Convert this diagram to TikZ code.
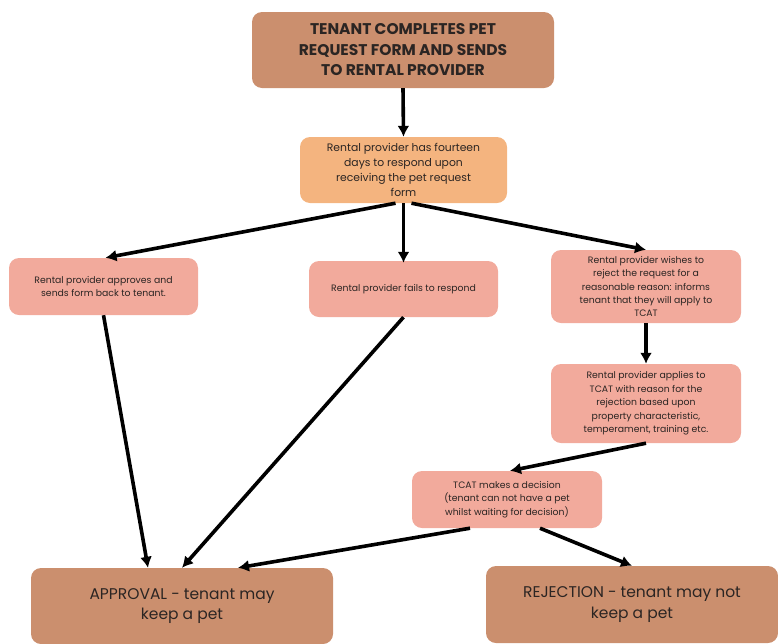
\documentclass[tikz,border=0pt]{standalone}
\usepackage{fontspec}
\setmainfont{Poppins}
\usepackage{xcolor}
\usetikzlibrary{positioning,arrows.meta}

\definecolor{brownbox}{HTML}{CB8F6E}
\definecolor{orangebox}{HTML}{F4B47F}
\definecolor{pinkbox}{HTML}{F2AA9C}
\definecolor{inktext}{HTML}{2B2523}

\begin{document}
\begin{tikzpicture}[
  x=1pt, y=-1pt,
  bigbox/.style={rectangle, rounded corners=10pt, fill=brownbox, align=center, text=inktext, font=\fontsize{15.5}{20.5}\selectfont},
  midbox/.style={rectangle, rounded corners=10pt, fill=orangebox, align=center, text=inktext, font=\fontsize{10.8}{15}\selectfont},
  smallbox/.style={rectangle, rounded corners=10pt, fill=pinkbox, align=center, text=inktext, font=\fontsize{9.3}{13.4}\selectfont},
  wire/.style={-{Latex[length=11pt,width=12pt]}, line width=3.6pt, black}
]
\useasboundingbox (0,0) rectangle (778,643);

% Start
\node[bigbox, minimum width=302pt, minimum height=76pt] (start) at (403,50)
  {\bfseries TENANT COMPLETES PET\\\bfseries REQUEST FORM AND SENDS\\\bfseries TO RENTAL PROVIDER};

% Fourteen days
\node[midbox, minimum width=207pt, minimum height=66pt] (days) at (403.5,170)
  {Rental provider has fourteen\\days to respond upon\\receiving the pet request\\form};

% Three outcomes
\node[smallbox, minimum width=189pt, minimum height=57pt] (approves) at (103.5,286.5)
  {Rental provider approves and\\sends form back to tenant.};
\node[smallbox, minimum width=189pt, minimum height=56pt] (fails) at (403.5,289)
  {Rental provider fails to respond};
\node[smallbox, minimum width=190pt, minimum height=73pt] (wishes) at (646,286.5)
  {Rental provider wishes to\\reject the request for a\\reasonable reason: informs\\tenant that they will apply to\\TCAT};

% Tribunal
\node[smallbox, minimum width=190pt, minimum height=79pt] (applies) at (646,403.5)
  {Rental provider applies to\\TCAT with reason for the\\rejection based upon\\property characteristic,\\temperament, training etc.};
\node[smallbox, minimum width=190pt, minimum height=57pt] (decision) at (507,499.5)
  {TCAT makes a decision\\(tenant can not have a pet\\whilst waiting for decision)};

% Results
\node[bigbox, minimum width=302pt, minimum height=76pt] (approval) at (182,606)
  {APPROVAL - tenant may\\keep a pet};
\node[bigbox, minimum width=292pt, minimum height=77pt] (rejection) at (632,604.5)
  {REJECTION - tenant may not\\keep a pet};

% Wires
\draw[wire] (start.south) -- (days.north);
\draw[wire] ([xshift=-8pt]days.south) -- ([xshift=2pt]approves.north);
\draw[wire] (days.south) -- ([yshift=-2pt]fails.north);
\draw[wire] ([xshift=8pt]days.south) -- (wishes.north);
\draw[wire] (wishes.south) -- (applies.north);
\draw[wire] (applies.south) -- ([xshift=3pt]decision.north);
\draw[wire] (approves.south) -- ([xshift=-34pt]approval.north);
\draw[wire] (fails.south) -- (approval.north);
\draw[wire] ([xshift=-37pt]decision.south) -- ([xshift=56pt]approval.north);
\draw[wire] ([xshift=33pt]decision.south) -- (rejection.north);

\end{tikzpicture}
\end{document}
